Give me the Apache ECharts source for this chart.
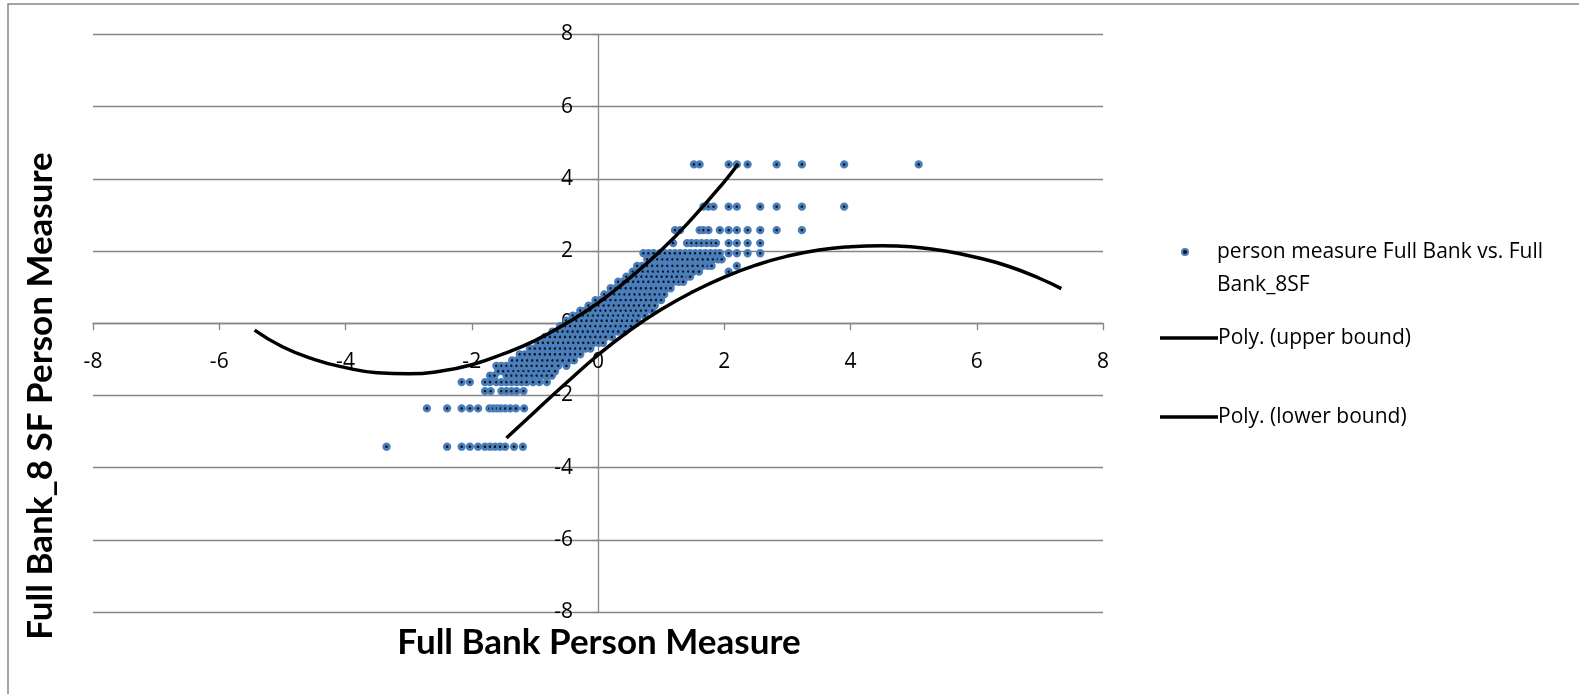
<!DOCTYPE html>
<html>
<head>
<meta charset="utf-8">
<title>Full Bank vs Full Bank_8SF person measures</title>
<script src="https://cdn.jsdelivr.net/npm/echarts@6/dist/echarts.min.js"></script>
<style>
  html, body { margin: 0; padding: 0; background: #ffffff; }
  #chart { width: 1579px; height: 694px; }
</style>
</head>
<body>
<div id="chart"></div>
<script>
// Axis ticks (both axes run -8 .. 8 in steps of 2)
const tickValues = [-8, -6, -4, -2, 0, 2, 4, 6, 8];

// Person measures: one y level (Full Bank_8SF) per row, with the Full Bank measures seen at that level
const yLevels = [
  4.40, 3.23, 2.58, 2.22, 1.94, 1.77, 1.59, 1.43, 1.29, 1.15, 0.97, 0.80, 0.64, 0.49, 0.35,
  0.21, 0.07, -0.08, -0.23, -0.38, -0.54, -0.70, -0.86, -1.03, -1.18, -1.33, -1.45, -1.63,
  -1.88, -2.36, -3.42
];
const xByLevel = [
  [1.52, 1.61, 2.07, 2.20, 2.37, 2.83, 3.23, 3.90, 5.08],
  [1.67, 1.75, 1.83, 2.07, 2.20, 2.57, 2.83, 3.23, 3.90],
  [1.22, 1.30, 1.61, 1.67, 1.75, 1.93, 2.07, 2.20, 2.37, 2.57, 2.83, 3.23],
  [1.19, 1.41, 1.48, 1.56, 1.64, 1.72, 1.80, 1.87, 2.07, 2.20, 2.37, 2.57],
  [0.72, 0.80, 0.88, 0.98, 1.06, 1.14, 1.22, 1.30, 1.38, 1.46, 1.54, 1.62, 1.70, 1.78, 1.86, 1.93, 2.07, 2.20, 2.37, 2.57],
  [0.78, 0.86, 0.94, 1.02, 1.10, 1.18, 1.26, 1.34, 1.42, 1.50, 1.58, 1.66, 1.74, 1.82, 1.90, 1.96],
  [0.62, 0.70, 0.78, 0.86, 0.94, 1.02, 1.10, 1.18, 1.26, 1.34, 1.42, 1.50, 1.58, 1.66, 1.74, 1.80, 2.20],
  [0.55, 0.63, 0.71, 0.79, 0.87, 0.95, 1.03, 1.11, 1.19, 1.27, 1.35, 1.43, 1.51, 1.60, 2.07],
  [0.45, 0.53, 0.61, 0.69, 0.77, 0.85, 0.93, 1.01, 1.09, 1.17, 1.25, 1.33, 1.41, 1.46],
  [0.32, 0.40, 0.48, 0.56, 0.64, 0.72, 0.80, 0.88, 0.96, 1.04, 1.12, 1.20, 1.28, 1.35],
  [0.20, 0.28, 0.36, 0.44, 0.52, 0.60, 0.68, 0.76, 0.84, 0.92, 1.00, 1.08, 1.15],
  [0.10, 0.18, 0.26, 0.34, 0.42, 0.50, 0.58, 0.66, 0.74, 0.82, 0.90, 0.98, 1.05],
  [-0.04, 0.04, 0.12, 0.20, 0.28, 0.36, 0.44, 0.52, 0.60, 0.68, 0.76, 0.84, 0.92, 1.00],
  [-0.15, -0.07, 0.01, 0.09, 0.17, 0.25, 0.33, 0.41, 0.49, 0.57, 0.65, 0.73, 0.81, 0.90],
  [-0.28, -0.20, -0.12, -0.04, 0.04, 0.12, 0.20, 0.28, 0.36, 0.44, 0.52, 0.60, 0.68, 0.76, 0.86],
  [-0.40, -0.32, -0.24, -0.16, -0.08, 0.00, 0.08, 0.16, 0.24, 0.32, 0.40, 0.48, 0.56, 0.64, 0.74],
  [-0.50, -0.42, -0.34, -0.26, -0.18, -0.10, -0.02, 0.06, 0.14, 0.22, 0.30, 0.38, 0.46, 0.54, 0.62],
  [-0.60, -0.52, -0.44, -0.36, -0.28, -0.20, -0.12, -0.04, 0.04, 0.12, 0.20, 0.28, 0.36, 0.44, 0.52],
  [-0.72, -0.64, -0.56, -0.48, -0.40, -0.32, -0.24, -0.16, -0.08, 0.00, 0.08, 0.16, 0.24, 0.32, 0.42],
  [-0.84, -0.76, -0.68, -0.60, -0.52, -0.44, -0.36, -0.28, -0.20, -0.12, -0.04, 0.04, 0.12, 0.22],
  [-0.95, -0.87, -0.79, -0.71, -0.63, -0.55, -0.47, -0.39, -0.31, -0.23, -0.15, -0.07, 0.01, 0.08],
  [-1.08, -1.00, -0.92, -0.84, -0.76, -0.68, -0.60, -0.52, -0.44, -0.36, -0.28, -0.20, -0.12],
  [-1.24, -1.16, -1.08, -1.00, -0.92, -0.84, -0.76, -0.68, -0.60, -0.52, -0.44, -0.36, -0.28],
  [-1.36, -1.28, -1.20, -1.12, -1.04, -0.96, -0.88, -0.80, -0.72, -0.64, -0.56, -0.46, -0.38],
  [-1.61, -1.53, -1.45, -1.37, -1.29, -1.21, -1.13, -1.05, -0.97, -0.89, -0.81, -0.73, -0.63, -0.50],
  [-1.58, -1.50, -1.42, -1.34, -1.26, -1.18, -1.10, -1.02, -0.94, -0.86, -0.78, -0.68],
  [-1.71, -1.64, -1.45, -1.37, -1.29, -1.21, -1.13, -1.05, -0.97, -0.89, -0.81, -0.73],
  [-2.16, -2.03, -1.79, -1.71, -1.61, -1.53, -1.45, -1.37, -1.29, -1.21, -1.13, -1.03, -0.93, -0.81],
  [-1.79, -1.70, -1.53, -1.45, -1.37, -1.29, -1.18],
  [-2.71, -2.39, -2.16, -2.03, -1.90, -1.72, -1.66, -1.60, -1.54, -1.47, -1.39, -1.30, -1.17],
  [-3.35, -2.39, -2.16, -2.03, -1.90, -1.79, -1.71, -1.63, -1.55, -1.47, -1.33, -1.19]
];

// Polynomial trend lines (upper and lower bound)
const upperX = [-5.44, -5, -4.5, -4, -3.5, -3, -2.5, -2, -1.5, -1, -0.5, 0, 0.5, 1, 1.5, 2, 2.22];
const upperY = [-0.19, -0.65, -1.00, -1.23, -1.37, -1.40, -1.33, -1.15, -0.85, -0.48, 0.00, 0.56, 1.25, 2.02, 2.92, 3.92, 4.41];
const lowerX = [-1.45, -1, -0.5, 0, 0.5, 1, 1.5, 2, 2.5, 3, 3.5, 4, 4.5, 5, 5.5, 6, 6.5, 7, 7.34];
const lowerY = [-3.18, -2.45, -1.65, -0.88, -0.20, 0.38, 0.87, 1.28, 1.61, 1.86, 2.03, 2.12, 2.15, 2.11, 2.00, 1.82, 1.58, 1.24, 0.96];

const seriesNames = [
  'person measure Full Bank vs. Full\nBank_8SF',
  'Poly. (upper bound)',
  'Poly. (lower bound)'
];

const points = [];
yLevels.forEach((y, i) => xByLevel[i].forEach(x => points.push([x, y])));
const pair = (xs, ys) => xs.map((x, i) => [x, ys[i]]);

const gridGray = '#868686';
const labelFont = '"Open Sans", Lato, sans-serif';
const titleFont = 'Lato, "Open Sans", sans-serif';

// Plot rectangle; both axes cross at zero, in the middle of it
const plot = { left: 93, top: 34.5, width: 1010, height: 577.5 };

const chart = echarts.init(document.getElementById('chart'), null, { renderer: 'canvas' });

const legendText = { color: '#000', fontSize: 21, fontFamily: labelFont };

chart.setOption({
  backgroundColor: '#ffffff',
  animation: false,
  grid: {
    left: plot.left, top: plot.top, width: plot.width, height: plot.height, containLabel: false
  },
  xAxis: {
    type: 'value', min: tickValues[0], max: tickValues[tickValues.length - 1], interval: 2,
    position: 'bottom', offset: -plot.height / 2,
    axisLine: { onZero: false, lineStyle: { color: gridGray, width: 1.3 } },
    axisTick: { show: true, inside: false, length: 7, lineStyle: { color: gridGray, width: 1.3 } },
    axisLabel: { color: '#000', fontSize: 21, fontFamily: labelFont, margin: 28 },
    splitLine: { show: false }
  },
  yAxis: {
    type: 'value', min: tickValues[0], max: tickValues[tickValues.length - 1], interval: 2,
    position: 'left', offset: -plot.width / 2,
    axisLine: { onZero: false, lineStyle: { color: gridGray, width: 1.3 } },
    axisTick: { show: true, inside: false, length: 6, lineStyle: { color: gridGray, width: 1.3 } },
    axisLabel: { color: '#000', fontSize: 21, fontFamily: labelFont, margin: 25 },
    splitLine: { show: true, lineStyle: { color: gridGray, width: 1.3 } }
  },
  legend: [
    {
      // leading blank line keeps the first text line level with the marker
      data: [seriesNames[0]], left: 1181, top: 202.5, padding: 0, orient: 'vertical',
      itemWidth: 14, itemHeight: 6,
      formatter: name => '\n' + name,
      textStyle: Object.assign({ lineHeight: 33, padding: [0, 0, 0, 20] }, legendText)
    },
    {
      data: [{ name: seriesNames[1], icon: 'rect' }], left: 1160, top: 326, padding: 0,
      itemWidth: 58, itemHeight: 3.5,
      textStyle: Object.assign({ lineHeight: 24, padding: [0, 0, 0, -5] }, legendText)
    },
    {
      data: [{ name: seriesNames[2], icon: 'rect' }], left: 1160, top: 405, padding: 0,
      itemWidth: 58, itemHeight: 3.5,
      textStyle: Object.assign({ lineHeight: 24, padding: [0, 0, 0, -5] }, legendText)
    }
  ],
  series: [
    {
      name: seriesNames[0], type: 'scatter', data: points,
      symbol: 'circle', symbolSize: 5.5,
      itemStyle: { color: '#0d1520', borderColor: '#4a7ebb', borderWidth: 2.8, opacity: 1 },
      z: 2
    },
    {
      name: seriesNames[1], type: 'line', data: pair(upperX, upperY),
      smooth: true, symbol: 'none', showSymbol: false,
      lineStyle: { color: '#000', width: 3.5 }, itemStyle: { color: '#000' },
      z: 3
    },
    {
      name: seriesNames[2], type: 'line', data: pair(lowerX, lowerY),
      smooth: true, symbol: 'none', showSymbol: false,
      lineStyle: { color: '#000', width: 3.5 }, itemStyle: { color: '#000' },
      z: 3
    }
  ],
  graphic: [
    {
      type: 'rect', silent: true, z: -1,
      shape: { x: 8, y: 4, width: 1640, height: 800 },
      style: { fill: 'none', stroke: gridGray, lineWidth: 1.5 }
    },
    {
      type: 'text', silent: true,
      x: 599, y: 643,
      style: {
        text: 'Full Bank Person Measure', x: 0, y: 0,
        align: 'center', verticalAlign: 'middle',
        fontSize: 35, fontWeight: 'bold', fontFamily: titleFont, fill: '#000'
      }
    },
    {
      type: 'text', silent: true,
      x: 41, y: 396, rotation: Math.PI / 2,
      style: {
        text: 'Full Bank_8 SF Person Measure', x: 0, y: 0,
        align: 'center', verticalAlign: 'middle',
        fontSize: 35, fontWeight: 'bold', fontFamily: titleFont, fill: '#000'
      }
    }
  ]
});
</script>
</body>
</html>
